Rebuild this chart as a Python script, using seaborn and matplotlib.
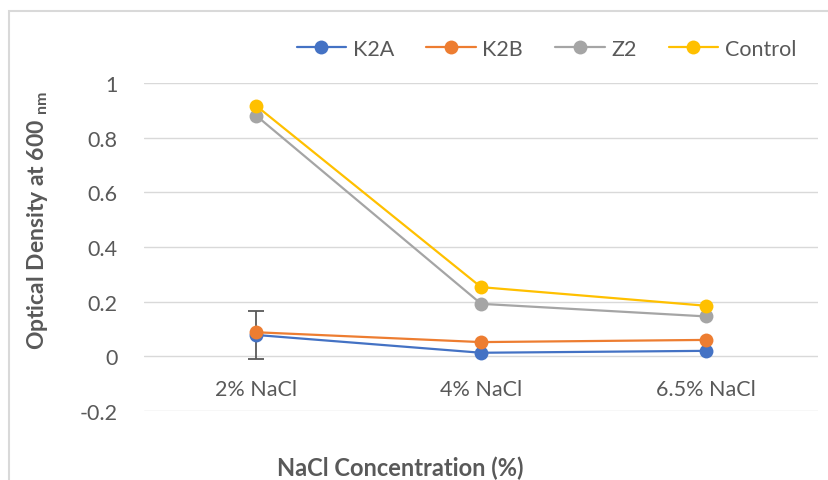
import pandas as pd
import matplotlib.pyplot as plt
import seaborn as sns
from matplotlib.patches import Rectangle

conditions = ['2% NaCl', '4% NaCl', '6.5% NaCl']
k2a = [0.078, 0.013, 0.020]
k2b = [0.088, 0.052, 0.060]
z2 = [0.880, 0.192, 0.146]
control = [0.916, 0.253, 0.185]
k2a_err = [0.088, 0.0, 0.0]

series = {'K2A': k2a, 'K2B': k2b, 'Z2': z2, 'Control': control}
colors = {'K2A': '#4472C4', 'K2B': '#ED7D31', 'Z2': '#A5A5A5', 'Control': '#FFC000'}

df = pd.DataFrame([
    {'cond': c, 'strain': name, 'od': v}
    for name, vals in series.items() for c, v in zip(conditions, vals)
])

sns.set_style('white')
plt.rcParams['font.family'] = ['Lato', 'DejaVu Sans']
plt.rcParams['mathtext.fontset'] = 'custom'
plt.rcParams['mathtext.rm'] = 'Lato:bold'

fig = plt.figure(figsize=(8.29, 4.81), dpi=100)
ax = fig.add_axes([0.1737, 0.1435, 0.8133, 0.6819])

sns.lineplot(data=df, x='cond', y='od', hue='strain', palette=colors,
             marker='o', markersize=10, markeredgewidth=0, linewidth=1.6,
             sort=False, ax=ax)

ax.errorbar([conditions[0]], [k2a[0]], yerr=[k2a_err[0]], fmt='none',
            ecolor='#595959', elinewidth=1.3, capsize=6, capthick=1.3, zorder=1)

ax.set_ylim(-0.2, 1.0)
ax.set_xlim(-0.5, 2.5)
ax.set_yticks([-0.2, 0, 0.2, 0.4, 0.6, 0.8, 1.0])
ax.set_yticklabels(['-0.2', '0', '0.2', '0.4', '0.6', '0.8', '1'])
ax.grid(axis='y', color='#d9d9d9', linewidth=1)
ax.set_axisbelow(True)
for s in ax.spines.values():
    s.set_visible(False)
# category labels sit next to the zero line, like Excel does
ax.spines['bottom'].set_position(('data', 0))
ax.tick_params(axis='both', length=0, labelsize=15.5, labelcolor='#595959')
ax.tick_params(axis='x', pad=16)
ax.tick_params(axis='y', pad=19)

ax.set_xlabel('NaCl Concentration (%)', fontsize=17, fontweight='bold', color='#595959')
ax.xaxis.set_label_coords(0.38, -0.135)
ax.set_ylabel('Optical Density at 600 $_{\\mathregular{nm}}$', fontsize=16.5,
              fontweight='bold', color='#595959')
ax.yaxis.set_label_coords(-0.14, 0.585)

leg = ax.legend(loc='center', bbox_to_anchor=(0.659, 0.896),
                bbox_transform=fig.transFigure, ncol=4, frameon=False,
                fontsize=15.5, handlelength=2.3, columnspacing=1.5,
                handletextpad=0.3)
for t in leg.get_texts():
    t.set_color('#595959')

fig.patches.append(Rectangle((0.011, -0.05), 1.2, 1.025, transform=fig.transFigure,
                             fill=False, edgecolor='#d9d9d9', linewidth=1.5))

fig.savefig('out.png', dpi=100)
